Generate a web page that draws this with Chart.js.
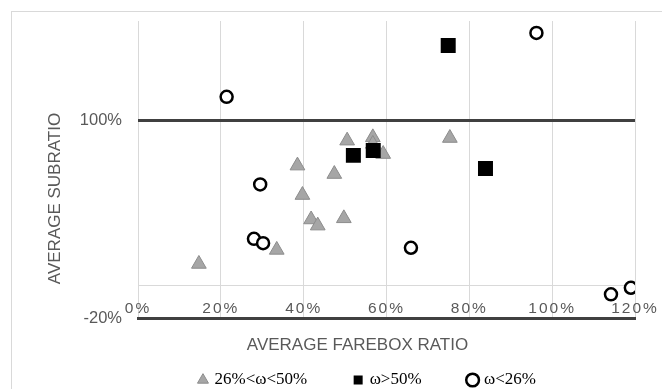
<!DOCTYPE html>
<html>
<head>
<meta charset="utf-8">
<script src="https://cdn.jsdelivr.net/npm/chart.js@4"></script>
<style>
  html, body { margin: 0; padding: 0; background: #fff; }
  #wrap { position: relative; width: 662px; height: 389px; overflow: hidden; }
  #frame { position: absolute; left: 11px; top: 11px; width: 700px; height: 400px;
           border-top: 1px solid #d9d9d9; border-left: 1px solid #d9d9d9; }
  canvas { position: absolute; left: 0; top: 0; }
</style>
</head>
<body>
<div id="wrap">
  <div id="frame"></div>
  <canvas id="myChart" width="662" height="389"></canvas>
</div>
<script>
// Series names (legend)
const seriesNames = ['26%<ω<50%', 'ω>50%', 'ω<26%'];

// Axis titles
const xTitle = 'AVERAGE FAREBOX RATIO';
const yTitle = 'AVERAGE SUBRATIO';

// Tick values (in %)
const xTicks = [0, 20, 40, 60, 80, 100, 120];
const yTicks = [-20, 0, 100];

// 26% < ω < 50% (triangles)
const midX = [50.5, 56.7, 56.7, 59.2, 38.5, 47.4, 39.7, 41.8, 43.4, 49.7, 14.7, 33.5, 75.3];
const midY = [87.6, 89.6, 85.6, 79.5, 72.5, 67.4, 54.7, 39.9, 36.2, 40.6, 13.0, 21.5, 89.2];

// ω > 50% (squares)
const highX = [74.9, 52.0, 56.8, 83.9];
const highY = [145.2, 78.7, 81.7, 70.8];

// ω < 26% (circles)
const lowX = [21.4, 29.5, 28.0, 30.2, 65.9, 114.2, 119.0, 96.2];
const lowY = [114.1, 61.1, 28.2, 25.6, 22.8, -5.4, -1.4, 152.8];

// Build {x, y} points from the arrays
function toPoints(xs, ys) {
    return xs.map((x, i) => ({ x: x, y: ys[i] }));
}

const sansFont = '"Liberation Sans", Arial, sans-serif';
const textGray = '#595959';

// Draw the axis titles where the original has them
const axisTitles = {
    id: 'axisTitles',
    afterDraw(chart) {
        const ctx = chart.ctx;
        const area = chart.chartArea;
        ctx.save();
        ctx.fillStyle = textGray;
        ctx.font = '17px ' + sansFont;
        ctx.textAlign = 'center';
        ctx.textBaseline = 'middle';
        ctx.fillText(xTitle, area.left + 219.5, area.bottom + 26.5);
        ctx.translate(55.5, 198.5);
        ctx.rotate(-Math.PI / 2);
        ctx.fillText(yTitle, 0, 0);
        ctx.restore();
    }
};

// Wider letter spacing on the x tick labels
const spacedTicks = {
    id: 'spacedTicks',
    beforeDraw(chart) {
        const s = chart.scales.x;
        if (s._spaced) return;
        const orig = s.drawLabels.bind(s);
        s.drawLabels = function (area) {
            const c = this.ctx;
            c.save();
            c.letterSpacing = '2px';
            orig(area);
            c.restore();
        };
        s._spaced = true;
    }
};

const ctx = document.getElementById('myChart').getContext('2d');
const myChart = new Chart(ctx, {
    type: 'scatter',
    data: {
        datasets: [
            {
                label: seriesNames[0],
                data: toPoints(midX, midY),
                pointStyle: 'triangle',
                pointRadius: 8.5,
                pointHoverRadius: 8.5,
                backgroundColor: '#a6a6a6',
                borderColor: '#8c8c8c',
                borderWidth: 1,
                order: 2
            },
            {
                label: seriesNames[1],
                data: toPoints(highX, highY),
                pointStyle: 'rect',
                pointRadius: 10.6,
                pointHoverRadius: 10.6,
                backgroundColor: '#000000',
                borderColor: '#000000',
                borderWidth: 0,
                order: 1
            },
            {
                label: seriesNames[2],
                data: toPoints(lowX, lowY),
                pointStyle: 'circle',
                pointRadius: 6,
                pointHoverRadius: 6,
                backgroundColor: '#ffffff',
                borderColor: '#000000',
                borderWidth: 2.5,
                order: 0
            }
        ]
    },
    options: {
        responsive: false,
        animation: false,
        layout: {
            padding: { left: 74, right: 0, top: 21, bottom: -9.5 }
        },
        plugins: {
            tooltip: { enabled: false },
            legend: {
                position: 'bottom',
                labels: {
                    usePointStyle: true,
                    boxWidth: 6,
                    boxHeight: 9,
                    padding: 48,
                    color: '#000000',
                    font: { family: '"Liberation Serif", "Times New Roman", serif', size: 17 },
                    sort: (a, b) => a.datasetIndex - b.datasetIndex
                }
            }
        },
        scales: {
            x: {
                type: 'linear',
                min: 0,
                max: 120,
                afterBuildTicks: (s) => { s.ticks = xTicks.map(v => ({ value: v })); },
                afterFit: (s) => {
                    s.height = 5;
                    s.paddingLeft = 0;
                    s.paddingRight = 27;
                },
                grid: {
                    color: '#d9d9d9',
                    lineWidth: 1,
                    drawTicks: false
                },
                border: { color: '#404040', width: 3 },
                ticks: {
                    mirror: true,
                    padding: 0,
                    maxRotation: 0,
                    autoSkip: false,
                    color: textGray,
                    font: { family: sansFont, size: 15.5 },
                    callback: (v) => v + '%'
                }
            },
            y: {
                type: 'linear',
                min: -20,
                max: 160,
                afterBuildTicks: (s) => { s.ticks = yTicks.map(v => ({ value: v })); },
                afterFit: (s) => {
                    s.width = 64;
                    s.paddingTop = 0;
                    s.paddingBottom = 0;
                },
                grid: {
                    color: (c) => (c.tick && c.tick.value === 0) ? '#d9d9d9' : '#404040',
                    lineWidth: (c) => (c.tick && c.tick.value === 0) ? 1 : 3,
                    drawTicks: false
                },
                border: { display: false },
                ticks: {
                    padding: 16,
                    color: textGray,
                    font: { family: sansFont, size: 16.5 },
                    callback: (v) => v === 0 ? '' : v + '%'
                }
            }
        }
    },
    plugins: [axisTitles, spacedTicks]
});
myChart.draw();
</script>
</body>
</html>
